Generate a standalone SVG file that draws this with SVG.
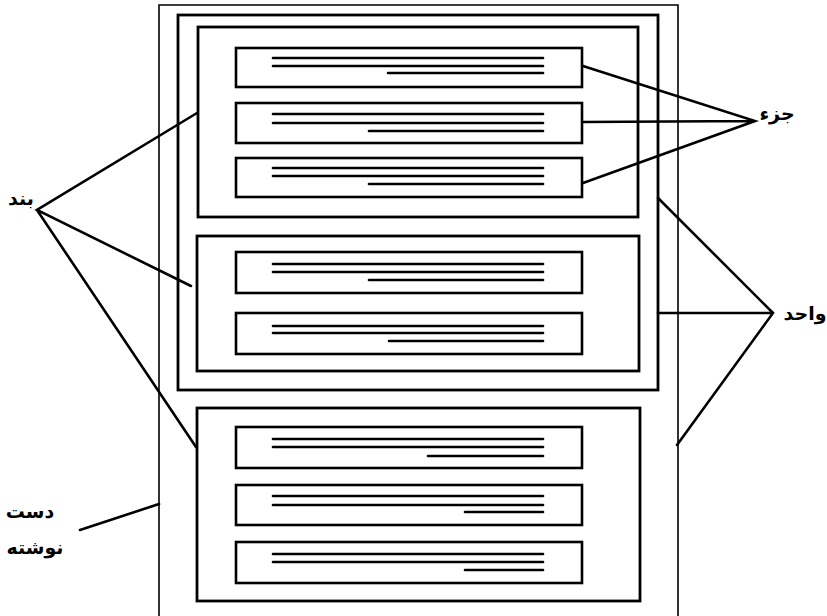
<svg xmlns="http://www.w3.org/2000/svg" width="827" height="616" viewBox="0 0 827 616">
<defs>
<style>
.page{fill:none;stroke:#000;stroke-width:1.6}
.box{fill:none;stroke:#000;stroke-width:2.8}
.part{fill:#fff;stroke:#000;stroke-width:2.6}
.tl{stroke:#000;stroke-width:2.6;stroke-linecap:round}
.con{stroke:#000;stroke-width:2.6;fill:none;stroke-linecap:round}
.lbl{font-family:"DejaVu Sans","Noto Sans",sans-serif;font-weight:bold;font-size:19px;fill:#000;text-anchor:middle}
</style>
</defs>
<rect width="827" height="616" fill="#fff"/>
<g id="page"><path class="page" d="M159,616 V5 H678 V616"/></g>
<g id="unit"><rect class="box" x="178" y="15" width="480" height="375"/></g>
<g id="band1">
<rect class="box" x="198" y="27" width="440" height="190"/>
<g id="part1"><rect class="part" x="236" y="48" width="346" height="39"/>
<line class="tl" x1="273" y1="58" x2="543" y2="58"/><line class="tl" x1="273" y1="66" x2="543" y2="66"/><line class="tl" x1="388" y1="73" x2="543" y2="73"/></g>
<g id="part2"><rect class="part" x="236" y="103" width="346" height="40"/>
<line class="tl" x1="273" y1="114" x2="543" y2="114"/><line class="tl" x1="273" y1="123" x2="543" y2="123"/><line class="tl" x1="369" y1="131" x2="543" y2="131"/></g>
<g id="part3"><rect class="part" x="236" y="158" width="346" height="39"/>
<line class="tl" x1="273" y1="168" x2="543" y2="168"/><line class="tl" x1="273" y1="176" x2="543" y2="176"/><line class="tl" x1="369" y1="184" x2="543" y2="184"/></g>
</g>
<g id="band2">
<rect class="box" x="197" y="236" width="442" height="135"/>
<g id="part4"><rect class="part" x="236" y="252" width="346" height="41"/>
<line class="tl" x1="273" y1="264" x2="543" y2="264"/><line class="tl" x1="273" y1="272" x2="543" y2="272"/><line class="tl" x1="369" y1="280" x2="543" y2="280"/></g>
<g id="part5"><rect class="part" x="236" y="313" width="346" height="41"/>
<line class="tl" x1="273" y1="326" x2="543" y2="326"/><line class="tl" x1="273" y1="333" x2="543" y2="333"/><line class="tl" x1="389" y1="341" x2="543" y2="341"/></g>
</g>
<g id="band3">
<rect class="box" x="197" y="408" width="443" height="193"/>
<g id="part6"><rect class="part" x="236" y="427" width="346" height="41"/>
<line class="tl" x1="273" y1="439" x2="543" y2="439"/><line class="tl" x1="273" y1="447" x2="543" y2="447"/><line class="tl" x1="428" y1="456" x2="543" y2="456"/></g>
<g id="part7"><rect class="part" x="236" y="485" width="346" height="40"/>
<line class="tl" x1="273" y1="496" x2="543" y2="496"/><line class="tl" x1="273" y1="505" x2="543" y2="505"/><line class="tl" x1="465" y1="512" x2="543" y2="512"/></g>
<g id="part8"><rect class="part" x="236" y="542" width="346" height="41"/>
<line class="tl" x1="273" y1="554" x2="543" y2="554"/><line class="tl" x1="273" y1="562" x2="543" y2="562"/><line class="tl" x1="465" y1="570" x2="543" y2="570"/></g>
</g>
<g id="connectors">
<path class="con" d="M197,113 L37,210 L191,286 M37,210 L196,447"/>
<path class="con" d="M583,66 L755,121 L583,183 M583,122 L755,121"/>
<path class="con" d="M658,198 L773,313 L677,445 M658,313 L773,313"/>
<path class="con" d="M80,530 L159,504"/>
</g>
<g id="labels">
<text class="lbl" x="21" y="205">بند</text>
<text class="lbl" x="777" y="120">جزء</text>
<text class="lbl" x="805" y="320">واحد</text>
<text class="lbl" x="30" y="518">دست</text>
<text class="lbl" x="35" y="554">نوشته</text>
</g>
</svg>
